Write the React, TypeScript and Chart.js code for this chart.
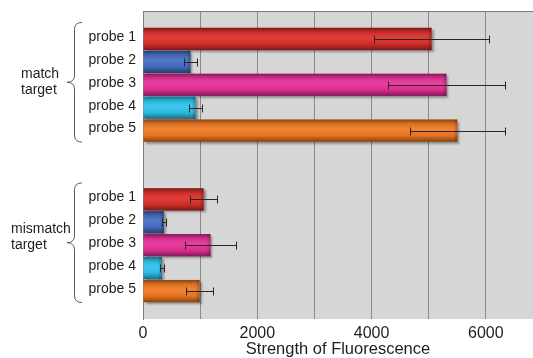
import React, { useEffect, useRef } from 'react';
import { Chart, registerables } from 'chart.js';

Chart.register(...registerables);

// ---- data ----
const probeLabels = ['probe 1', 'probe 2', 'probe 3', 'probe 4', 'probe 5'];
const groupLabels = [['match', 'target'], ['mismatch', 'target']];
const matchValues = [5050, 830, 5310, 920, 5500];
const matchErrors = [1000, 120, 1030, 120, 830];
const mismatchValues = [1060, 365, 1180, 330, 990];
const mismatchErrors = [236, 33, 440, 35, 240];
const xTickLabels = [0, 2000, 4000, 6000];
const axisTitle = 'Strength of Fluorescence';

// ---- styles / layout ----
const probeColors = ['#de302c', '#4870c4', '#e9329a', '#2ec5ee', '#f27b24'];
const FONT = "'Liberation Sans', Arial, Helvetica, sans-serif";
const TEXT = '#1e1e1e';
const X_MAX = 6825;
const X_STEP = 1000;
const GAP_ROWS = 2;
const groupLabelLayout = [
  { x: 21, dy: -8 },
  { x: 11, dy: -14 },
];

type Row = { x: number; y: number; err: number; label: string; color: string };

const groupsData = [
  { values: matchValues, errors: matchErrors },
  { values: mismatchValues, errors: mismatchErrors },
];

const rows: Row[] = [];
const groupSpans: { first: number; last: number }[] = [];
groupsData.forEach((g, gi) => {
  const offset = gi * (probeLabels.length + GAP_ROWS);
  g.values.forEach((v, i) => {
    rows.push({ x: v, y: offset + i, err: g.errors[i], label: probeLabels[i], color: probeColors[i] });
  });
  groupSpans.push({ first: offset, last: offset + g.values.length - 1 });
});
const lastIndex = rows[rows.length - 1].y;
const labelAt: Record<number, string> = {};
rows.forEach((r) => (labelAt[r.y] = r.label));

const gridValues: number[] = [];
for (let v = 0; v <= X_MAX; v += X_STEP) gridValues.push(v);

const bgPlugin = {
  id: 'plotBg',
  beforeDraw(chart: any) {
    const { ctx, chartArea: a } = chart;
    ctx.save();
    ctx.fillStyle = '#d6d6d6';
    ctx.fillRect(a.left, a.top, a.right - a.left, a.bottom - a.top);
    ctx.restore();
  },
  afterDraw(chart: any) {
    const { ctx, chartArea: a } = chart;
    ctx.save();
    ctx.strokeStyle = '#7d7d7d';
    ctx.lineWidth = 1;
    ctx.beginPath();
    ctx.moveTo(a.left, Math.round(a.top) + 0.5);
    ctx.lineTo(a.right, Math.round(a.top) + 0.5);
    ctx.stroke();
    ctx.restore();
  },
};

const barStylePlugin = {
  id: 'barStyle',
  beforeDatasetDraw(chart: any) {
    const ctx = chart.ctx;
    ctx.save();
    ctx.shadowColor = 'rgba(0,0,0,0.35)';
    ctx.shadowOffsetX = 2;
    ctx.shadowOffsetY = 2;
    ctx.shadowBlur = 2;
  },
  afterDatasetDraw(chart: any, args: any) {
    const ctx = chart.ctx;
    ctx.restore();
    const meta = chart.getDatasetMeta(args.index);
    ctx.save();
    meta.data.forEach((el: any) => {
      const p = el.getProps(['x', 'y', 'base', 'height'], true);
      const top = p.y - p.height / 2;
      const bottom = p.y + p.height / 2;
      const left = Math.min(p.base, p.x);
      const w = Math.abs(p.x - p.base);
      const g = ctx.createLinearGradient(0, top, 0, bottom);
      g.addColorStop(0, 'rgba(0,0,0,0.45)');
      g.addColorStop(0.18, 'rgba(0,0,0,0.12)');
      g.addColorStop(0.45, 'rgba(255,255,255,0.06)');
      g.addColorStop(0.72, 'rgba(0,0,0,0.06)');
      g.addColorStop(1, 'rgba(0,0,0,0.45)');
      ctx.fillStyle = g;
      ctx.fillRect(left, top, w, bottom - top);
      const g2 = ctx.createLinearGradient(left + w - 4, 0, left + w, 0);
      g2.addColorStop(0, 'rgba(0,0,0,0)');
      g2.addColorStop(1, 'rgba(0,0,0,0.25)');
      ctx.fillStyle = g2;
      ctx.fillRect(left + w - 4, top, 4, bottom - top);
    });
    ctx.restore();
  },
};

const errorBarPlugin = {
  id: 'errorBars',
  afterDatasetsDraw(chart: any) {
    const ctx = chart.ctx;
    const xs = chart.scales.x;
    const meta = chart.getDatasetMeta(0);
    ctx.save();
    ctx.strokeStyle = '#262626';
    ctx.lineWidth = 1;
    meta.data.forEach((el: any, i: number) => {
      const r = rows[i];
      const y = Math.round(el.y) + 0.5;
      const x1 = Math.round(xs.getPixelForValue(r.x - r.err)) + 0.5;
      const x2 = Math.round(xs.getPixelForValue(r.x + r.err)) + 0.5;
      ctx.beginPath();
      ctx.moveTo(x1, y);
      ctx.lineTo(x2, y);
      ctx.moveTo(x1, y - 4);
      ctx.lineTo(x1, y + 4);
      ctx.moveTo(x2, y - 4);
      ctx.lineTo(x2, y + 4);
      ctx.stroke();
    });
    ctx.restore();
  },
};

const bracePlugin = {
  id: 'groupBraces',
  afterDraw(chart: any) {
    const ctx = chart.ctx;
    const ys = chart.scales.y;
    ctx.save();
    groupSpans.forEach((span, gi) => {
      const yTop = ys.getPixelForValue(span.first - 0.72);
      const yBot = ys.getPixelForValue(span.last + 0.5);
      const yMid = (yTop + yBot) / 2;
      const xEnd = 82;
      const xBack = 74.5;
      const xTip = 67;
      const r = 7;
      ctx.strokeStyle = '#5a5a5a';
      ctx.lineWidth = 1;
      ctx.beginPath();
      ctx.moveTo(xEnd, yTop);
      ctx.quadraticCurveTo(xBack, yTop, xBack, yTop + r);
      ctx.lineTo(xBack, yMid - r);
      ctx.quadraticCurveTo(xBack, yMid, xTip, yMid);
      ctx.quadraticCurveTo(xBack, yMid, xBack, yMid + r);
      ctx.lineTo(xBack, yBot - r);
      ctx.quadraticCurveTo(xBack, yBot, xEnd, yBot);
      ctx.stroke();

      const lay = groupLabelLayout[gi];
      ctx.fillStyle = TEXT;
      ctx.font = `14px ${FONT}`;
      ctx.textAlign = 'left';
      ctx.textBaseline = 'middle';
      const lines = groupLabels[gi];
      lines.forEach((t, li) => {
        ctx.fillText(t, lay.x, yMid + lay.dy + li * 16);
      });
    });
    ctx.restore();
  },
};

export default function App() {
  const ref = useRef<HTMLCanvasElement | null>(null);
  useEffect(() => {
    if (!ref.current) return;
    const chart = new Chart(ref.current, {
      type: 'bar',
      data: {
        datasets: [
          {
            data: rows.map((r) => ({ x: r.x, y: r.y })) as any,
            backgroundColor: rows.map((r) => r.color),
            borderWidth: 0,
            barPercentage: 0.97,
            categoryPercentage: 1,
          },
        ],
      },
      options: {
        indexAxis: 'y',
        animation: false,
        responsive: true,
        maintainAspectRatio: false,
        layout: { padding: { top: 11, left: 0, right: 0, bottom: 0 } },
        plugins: { legend: { display: false }, tooltip: { enabled: false } },
        scales: {
          x: {
            type: 'linear',
            min: 0,
            max: X_MAX,
            offset: false,
            afterBuildTicks: (s: any) => {
              s.ticks = gridValues.map((v) => ({ value: v }));
            },
            afterFit: (s: any) => {
              s.height = 39;
              s.paddingLeft = 0;
              s.paddingRight = 0;
            },
            ticks: {
              autoSkip: false,
              maxRotation: 0,
              padding: 5,
              color: TEXT,
              font: { family: FONT, size: 16 },
              callback: (v: any) => (xTickLabels.includes(Number(v)) ? String(v) : ''),
            },
            grid: {
              drawTicks: false,
              lineWidth: 1,
              offset: false,
              color: '#8a8a8a',
            },
            border: { display: false },
            title: {
              display: true,
              text: axisTitle,
              color: TEXT,
              font: { family: FONT, size: 16.5, lineHeight: 1 },
              padding: { top: 0, bottom: 0 },
            },
          },
          y: {
            type: 'linear',
            reverse: true,
            offset: false,
            min: -1.22,
            max: lastIndex + 1.22,
            afterBuildTicks: (s: any) => {
              s.ticks = rows.map((r) => ({ value: r.y }));
            },
            afterFit: (s: any) => {
              s.width = 143;
              s.paddingTop = 0;
              s.paddingBottom = 0;
            },
            ticks: {
              autoSkip: false,
              padding: 7,
              labelOffset: -2,
              color: TEXT,
              font: { family: FONT, size: 14 },
              callback: (v: any) => labelAt[Number(v)] ?? '',
            },
            grid: { display: false, drawTicks: false, offset: false },
            border: { display: true, color: '#7d7d7d', width: 1 },
          },
        },
      },
      plugins: [bgPlugin, barStylePlugin, errorBarPlugin, bracePlugin],
    } as any);
    return () => chart.destroy();
  }, []);

  return (
    <div style={{ position: 'fixed', left: 0, top: 0, width: 533, height: 358, background: '#fff' }}>
      <canvas ref={ref} />
    </div>
  );
}
